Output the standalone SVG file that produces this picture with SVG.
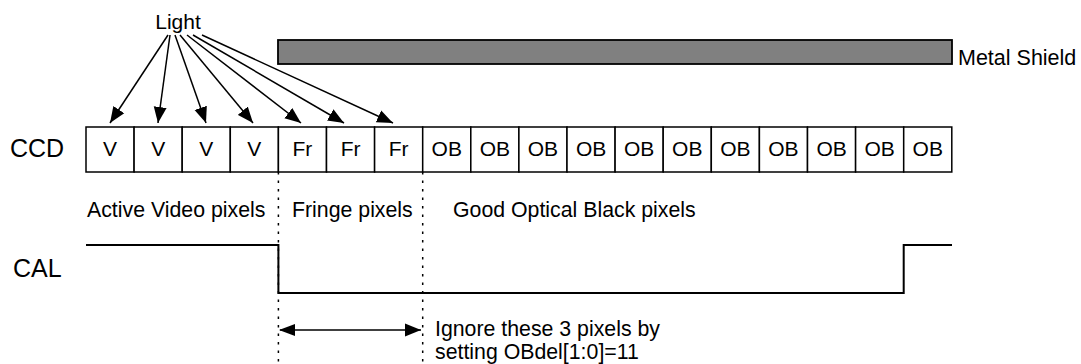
<svg xmlns="http://www.w3.org/2000/svg" width="1081" height="364" viewBox="0 0 1081 364">
<defs>
<marker id="ah" markerUnits="userSpaceOnUse" markerWidth="18" markerHeight="14" refX="16" refY="7" orient="auto">
<path d="M0,0.5 L16,7 L0,13.5 z" fill="#000"/>
</marker>
<marker id="ahs" markerUnits="userSpaceOnUse" markerWidth="18" markerHeight="14" refX="1" refY="7" orient="auto">
<path d="M16,1 L0,7 L16,13 z" fill="#000"/>
</marker>
<style>
text{font-family:"Liberation Sans",Arial,sans-serif;fill:#000}
.cell rect{fill:#fff;stroke:#000;stroke-width:1.5}
.cell text{font-size:21px;text-anchor:middle}
.lbl{font-size:21.3px}
.big{font-size:25px}
.arr{stroke:#000;stroke-width:1.5;fill:none;marker-end:url(#ah)}
.dot{stroke:#000;stroke-width:1.5;stroke-dasharray:2.5,6;fill:none}
.wave{stroke:#000;stroke-width:2;fill:none}
</style>
</defs>
<rect width="1081" height="364" fill="#fff"/>
<g id="light"><text x="178" y="29" text-anchor="middle" font-size="21">Light</text></g>
<g id="shield">
<rect x="278" y="40" width="674" height="24" fill="#808080" stroke="#000" stroke-width="1.8"/>
<text x="958" y="65" font-size="21.5">Metal Shield</text>
</g>
<g id="ccd-label"><text class="big" x="10" y="157">CCD</text></g>
<g id="cells">
<g id="c1" class="cell"><rect x="86" y="127" width="48.1" height="45"/><text x="110.05" y="156">V</text></g>
<g id="c2" class="cell"><rect x="134.1" y="127" width="48.1" height="45"/><text x="158.15" y="156">V</text></g>
<g id="c3" class="cell"><rect x="182.2" y="127" width="48.1" height="45"/><text x="206.25" y="156">V</text></g>
<g id="c4" class="cell"><rect x="230.3" y="127" width="48.1" height="45"/><text x="254.35" y="156">V</text></g>
<g id="c5" class="cell"><rect x="278.4" y="127" width="48.1" height="45"/><text x="302.45" y="156">Fr</text></g>
<g id="c6" class="cell"><rect x="326.5" y="127" width="48.1" height="45"/><text x="350.55" y="156">Fr</text></g>
<g id="c7" class="cell"><rect x="374.6" y="127" width="48.1" height="45"/><text x="398.65" y="156">Fr</text></g>
<g id="c8" class="cell"><rect x="422.7" y="127" width="48.1" height="45"/><text x="446.75" y="156">OB</text></g>
<g id="c9" class="cell"><rect x="470.8" y="127" width="48.1" height="45"/><text x="494.85" y="156">OB</text></g>
<g id="c10" class="cell"><rect x="518.9" y="127" width="48.1" height="45"/><text x="542.95" y="156">OB</text></g>
<g id="c11" class="cell"><rect x="567" y="127" width="48.1" height="45"/><text x="591.05" y="156">OB</text></g>
<g id="c12" class="cell"><rect x="615.1" y="127" width="48.1" height="45"/><text x="639.15" y="156">OB</text></g>
<g id="c13" class="cell"><rect x="663.2" y="127" width="48.1" height="45"/><text x="687.25" y="156">OB</text></g>
<g id="c14" class="cell"><rect x="711.3" y="127" width="48.1" height="45"/><text x="735.35" y="156">OB</text></g>
<g id="c15" class="cell"><rect x="759.4" y="127" width="48.1" height="45"/><text x="783.45" y="156">OB</text></g>
<g id="c16" class="cell"><rect x="807.5" y="127" width="48.1" height="45"/><text x="831.55" y="156">OB</text></g>
<g id="c17" class="cell"><rect x="855.6" y="127" width="48.1" height="45"/><text x="879.65" y="156">OB</text></g>
<g id="c18" class="cell"><rect x="903.7" y="127" width="48.1" height="45"/><text x="927.75" y="156">OB</text></g>
</g>
<g id="region-labels">
<text class="lbl" x="87" y="217">Active Video pixels</text>
<text class="lbl" x="292" y="217">Fringe pixels</text>
<text class="lbl" x="453" y="217">Good Optical Black pixels</text>
</g>
<g id="cal-label"><text class="big" x="13" y="277">CAL</text></g>
<g id="cal-wave"><path class="wave" d="M86,245 H278.4 V293 H903.7 V245 H952"/></g>
<g id="note">
<text class="lbl" x="435" y="336">Ignore these 3 pixels by</text>
<text class="lbl" x="435" y="359">setting OBdel[1:0]=11</text>
</g>
<g id="connectors">
<path class="arr" d="M168,35 L110,123"/>
<path class="arr" d="M170,35 L158,123"/>
<path class="arr" d="M175,35 L206,123"/>
<path class="arr" d="M180,35 L253,123"/>
<path class="arr" d="M187,35 L301,123"/>
<path class="arr" d="M193,35 L344,123"/>
<path class="arr" d="M202,35 L393,123"/>
<path class="dot" d="M278.4,172 V364"/>
<path class="dot" d="M422.7,172 V364"/>
<path stroke="#000" stroke-width="1.5" fill="none" marker-start="url(#ahs)" marker-end="url(#ah)" d="M280,330 H421"/>
</g>
</svg>
